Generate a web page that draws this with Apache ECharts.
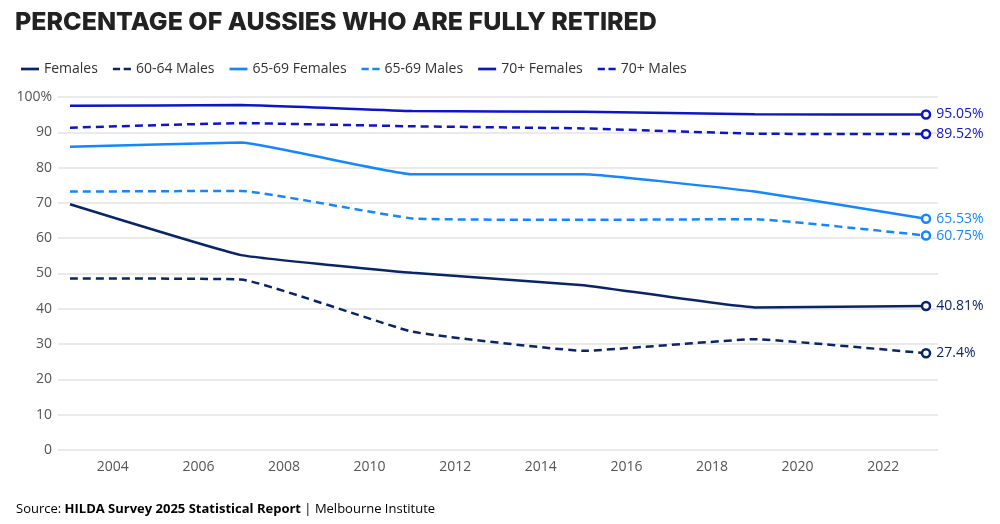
<!DOCTYPE html>
<html>
<head>
<meta charset="utf-8">
<script src="https://cdn.jsdelivr.net/npm/echarts@6/dist/echarts.min.js"></script>
<style>
  html, body { margin: 0; padding: 0; background: #fff; }
  #chart { width: 1000px; height: 524px; }
</style>
</head>
<body>
<div id="chart"></div>
<script>
// survey waves
const years = [2003, 2007, 2011, 2015, 2019, 2023];
const yearTicks = [2004, 2006, 2008, 2010, 2012, 2014, 2016, 2018, 2020, 2022];

const females6064 = [69.6, 55.2, 50.2, 46.7, 40.4, 40.81];
const males6064 = [48.6, 48.3, 33.5, 28.1, 31.4, 27.4];
const females6569 = [85.9, 87.1, 78.1, 78.1, 73.2, 65.53];
const males6569 = [73.2, 73.4, 65.6, 65.2, 65.4, 60.75];
const females70 = [97.5, 97.7, 96.0, 95.8, 95.1, 95.05];
const males70 = [91.3, 92.6, 91.7, 91.1, 89.6, 89.52];

const NAVY = '#0a2468';
const LIGHT = '#1487ff';
const BLUE = '#0d16c4';
const FONT = 'Open Sans, sans-serif';

const SOLID_ICON = 'path://M0,0h20v3h-20z';
const DASH_ICON = 'path://M0,0h8v3h-8z M12,0h8v3h-8z';

function makeSeries(name, values, color, dashed) {
  const data = values.map((v, i) => {
    if (i < values.length - 1) return [years[i], v];
    // last point gets the hollow marker + value label
    return {
      value: [years[i], v],
      symbol: 'circle',
      symbolSize: 8,
      itemStyle: { color: '#fff', borderColor: color, borderWidth: 2.5 },
      label: {
        show: true,
        position: 'right',
        distance: 5,
        color: color,
        fontSize: 14,
        fontFamily: FONT,
        formatter: p => p.value[1] + '%'
      }
    };
  });
  return {
    name: name,
    type: 'line',
    data: data,
    symbol: 'none',
    smooth: 0.1,
    lineStyle: { color: color, width: 2.5, type: dashed ? [8, 5] : 'solid' },
    itemStyle: { color: color },
    emphasis: { disabled: true },
    animation: false,
    z: 3
  };
}

const chart = echarts.init(document.getElementById('chart'));
chart.setOption({
  backgroundColor: '#fff',
  title: {
    text: 'PERCENTAGE OF AUSSIES WHO ARE FULLY RETIRED',
    left: 10,
    top: 5,
    textStyle: { fontFamily: 'Inter, sans-serif', fontWeight: 800, fontSize: 25, color: '#222' }
  },
  legend: {
    left: 16,
    top: 57,
    itemWidth: 18,
    itemHeight: 14,
    itemGap: 15,
    itemStyle: { borderWidth: 0 },
    textStyle: { fontFamily: FONT, fontSize: 14, color: '#333' },
    data: [
      { name: 'Females', icon: SOLID_ICON },
      { name: '60-64 Males', icon: DASH_ICON },
      { name: '65-69 Females', icon: SOLID_ICON },
      { name: '65-69 Males', icon: DASH_ICON },
      { name: '70+ Females', icon: SOLID_ICON },
      { name: '70+ Males', icon: DASH_ICON }
    ]
  },
  grid: { left: 58, right: 62, top: 97, bottom: 74 },
  xAxis: {
    type: 'value',
    min: v => v.min - 0.28,
    max: v => v.max + 0.28,
    axisLine: { show: false },
    axisTick: { show: false },
    splitLine: { show: false },
    axisLabel: {
      customValues: yearTicks,
      margin: 10,
      color: '#555',
      fontSize: 14,
      fontFamily: FONT,
      formatter: v => String(v)
    }
  },
  yAxis: {
    type: 'value',
    min: 0,
    max: 100,
    interval: 10,
    axisLine: { show: false },
    axisTick: { show: false },
    splitLine: { lineStyle: { color: '#e3e3e3', width: 1.5 } },
    axisLabel: {
      margin: 6,
      color: '#555',
      fontSize: 14,
      fontFamily: FONT,
      formatter: v => (v === 100 ? '100%' : String(v))
    }
  },
  graphic: [{
    type: 'text',
    left: 16,
    top: 503,
    style: {
      text: '{n|Source: }{b|HILDA Survey 2025 Statistical Report}{n| | Melbourne Institute}',
      rich: {
        n: { fontFamily: FONT, fontSize: 13, color: '#555' },
        b: { fontFamily: FONT, fontSize: 13, fontWeight: 'bold', color: '#444' }
      }
    }
  }],
  series: [
    makeSeries('Females', females6064, NAVY, false),
    makeSeries('60-64 Males', males6064, NAVY, true),
    makeSeries('65-69 Females', females6569, LIGHT, false),
    makeSeries('65-69 Males', males6569, LIGHT, true),
    makeSeries('70+ Females', females70, BLUE, false),
    makeSeries('70+ Males', males70, BLUE, true)
  ]
});
</script>
</body>
</html>
